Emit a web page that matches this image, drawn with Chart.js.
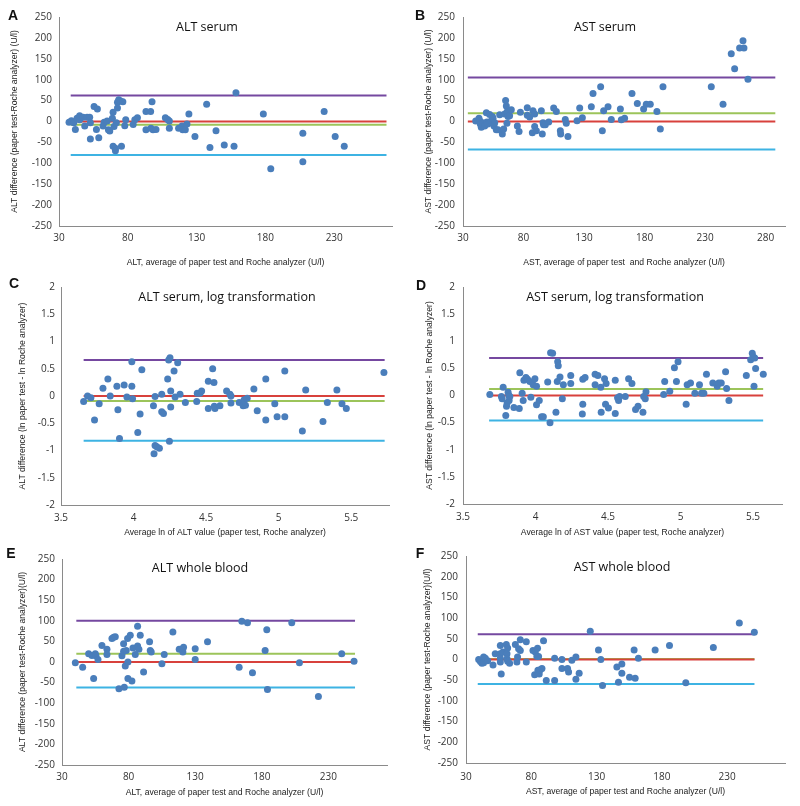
<!DOCTYPE html>
<html>
<head>
<meta charset="utf-8">
<script src="https://cdn.jsdelivr.net/npm/chart.js@4.4.1/dist/chart.umd.min.js"></script>
<style>
  body { margin: 0; background: #fff; }
  #fig { position: relative; width: 800px; height: 806px; overflow: hidden; font-family: 'Open Sans', sans-serif; }
  canvas { position: absolute; }
  .letter { position: absolute; font: bold 14px 'Liberation Sans', Arial, sans-serif; color: #111; transform: translate(-50%, -50%); }
  .title { position: absolute; font-size: 12.5px; color: #111; transform: translate(-50%, -50%); white-space: nowrap; }
</style>
</head>
<body>
<div id="fig"></div>
<script>
// ---- data ----
// limits: [upper LoA, zero, mean difference, lower LoA]
const uTicksX = [30, 80, 130, 180, 230];
const uTicksXB = [30, 80, 130, 180, 230, 280];
const uTicksY = [-250, -200, -150, -100, -50, 0, 50, 100, 150, 200, 250];
const lnTicksX = [3.5, 4, 4.5, 5, 5.5];
const lnTicksY = [-2, -1.5, -1, -0.5, 0, 0.5, 1, 1.5, 2];

// A: ALT serum
const altSerumX = [37.3,39,40.7,41.9,43.1,45,45,47.5,48.7,50.4,52.3,52.8,52.8,55.5,57.2,57.9,58.9,62,62.8,65,65.9,66.9,68.8,69.3,69.3,70,71,71,71.7,72.5,72.5,73.4,74.7,75.4,76.4,77.8,78.5,83.9,85.1,87,93.2,93.2,96.6,96.8,97.6,98.3,100.5,107.3,109,110.2,110.2,116.9,119.4,119.9,121.8,123,124.4,128.8,137.3,139.7,144.1,150.1,157.2,158.6,178.5,183.9,207.2,207.2,222.7,230.7,237.3];
const altSerumY = [-2,2,-3,-19,8,14,4,10,-11,10,10,-3,-42,36,-19,30,-39,-11,-2,1,-20,-23,8,22,-59,-12,-64,-70,-3,32,46,52,49,-59,47,-10,4,-7,4,9,-20,24,24,-16,47,-20,-19,9,5,1,-16,-16,-11,-20,-20,-6,18,-36,41,-62,-22,-56,-59,69,18,-113,-28,-96,24,-36,-59];
const altSerumLimits = [62, 0, -8, -80];
const altSerumSpan = [38.5, 268];

// B: AST serum
const astSerumX = [40.5,43.2,43.8,44.3,45.1,46,46.5,47.9,49.3,49.8,50.6,52,53.4,54.2,54.8,55.6,56.2,57.5,58.9,60.3,62.5,63.6,64.4,65.2,65.8,66.3,66.6,67.2,68.5,69.9,74.9,76.3,77.4,83.1,83.1,85.1,87.3,87.8,89.2,89.2,90.6,94.7,95.5,96.1,96.6,98,100.8,104.9,107.1,110.4,110.7,114.5,115.3,116.7,124.2,126.4,128.6,136,137.4,143.7,145.1,146.2,149.8,152.5,160,160.8,163.5,169.6,174,179.2,181.4,184.7,190.2,193,195.2,235.1,244.8,251.6,254.4,258.5,261.3,262.1,265.4];
const astSerumY = [1,8,2,-6,-14,-8,-3,-11,21,-1,-6,17,2,12,8,-11,-3,-20,-20,16,-30,-18,18,50,37,-4,24,12,14,28,-11,-24,22,33,15,11,-27,26,-12,18,-22,26,-30,-3,-8,-8,-1,32,24,-22,-30,5,-4,-36,2,32,9,35,67,83,-22,26,35,5,30,4,8,67,43,30,41,41,24,-18,83,83,41,162,126,176,193,176,101];
const astSerumLimits = [105, 0, 20, -67];
const astSerumSpan = [34, 288];

// C: ALT serum, ln
const altLnX = [3.656,3.683,3.706,3.731,3.763,3.789,3.823,3.839,3.885,3.892,3.903,3.935,3.954,3.988,3.988,3.993,4.029,4.045,4.057,4.137,4.141,4.148,4.148,4.160,4.178,4.194,4.194,4.206,4.235,4.242,4.251,4.256,4.256,4.247,4.279,4.286,4.304,4.320,4.357,4.435,4.439,4.458,4.469,4.515,4.515,4.545,4.554,4.556,4.561,4.595,4.641,4.664,4.671,4.671,4.728,4.755,4.762,4.771,4.783,4.829,4.852,4.911,4.911,4.973,4.989,5.042,5.042,5.163,5.186,5.305,5.335,5.401,5.436,5.466,5.725];
const altLnY = [-0.10,0,-0.03,-0.44,-0.14,0.14,0.31,0,0.18,-0.25,-0.78,0.20,-0.02,0.18,0.63,-0.05,-0.67,-0.33,0.48,-0.18,-1.06,-0.01,-0.91,-0.93,-0.96,0.03,-0.29,-0.32,0.31,0.66,0.70,0.09,-0.20,-0.83,0.46,-0.02,0.61,0.03,-0.12,-0.10,0.05,0.05,0.09,0.27,-0.23,0.50,0.25,-0.19,-0.23,-0.18,0.09,0.03,0,-0.13,-0.12,-0.18,-0.07,-0.17,-0.04,0.13,-0.27,0.31,-0.44,-0.14,-0.38,0.46,-0.38,-0.64,0.11,-0.47,-0.12,0.11,-0.14,-0.23,0.43];
const altLnLimits = [0.66, 0, -0.09, -0.82];
const altLnSpan = [3.656, 5.73];

// D: AST serum, ln
const astLnX = [3.685,3.765,3.770,3.777,3.795,3.800,3.804,3.811,3.816,3.818,3.823,3.851,3.888,3.892,3.908,3.915,3.920,3.934,3.945,3.961,3.968,3.984,3.996,4.007,4.007,4.026,4.042,4.054,4.084,4.100,4.104,4.118,4.141,4.150,4.153,4.157,4.169,4.185,4.192,4.243,4.243,4.323,4.326,4.326,4.342,4.411,4.411,4.430,4.450,4.453,4.476,4.483,4.487,4.503,4.550,4.550,4.566,4.573,4.580,4.619,4.642,4.665,4.690,4.707,4.741,4.746,4.757,4.762,4.884,4.891,4.926,4.958,4.972,4.983,5.039,5.046,5.069,5.099,5.131,5.145,5.161,5.179,5.223,5.253,5.264,5.281,5.311,5.318,5.334,5.454,5.484,5.495,5.502,5.507,5.518,5.571,5.512];
const astLnY = [0.02,-0.02,-0.06,0.15,-0.37,-0.20,-0.14,0.06,0,-0.09,-0.02,-0.22,-0.24,0.42,0.04,-0.09,0.28,0.33,0.30,0.26,-0.03,0.20,0.31,0.17,-0.17,-0.09,-0.39,-0.39,0.25,-0.50,0.79,0.78,-0.31,0.26,0.62,0.55,0.34,-0.06,0.20,0.37,0.22,-0.34,-0.16,0.30,0.33,0.20,0.39,0.37,0.15,-0.31,0.31,-0.16,0.22,-0.23,-0.33,0.28,-0.04,-0.09,-0.02,-0.02,0.31,0.22,-0.26,-0.20,-0.31,-0.02,-0.06,0.07,0.02,0.26,0.08,0.51,0.26,0.62,-0.16,0.20,0.23,0.04,0.20,0.04,0.04,0.39,0.23,0.17,0.23,0.23,0.44,0.13,-0.09,0.37,0.66,0.78,0.71,0.17,0.50,0.39,0.69];
const astLnLimits = [0.69, 0, 0.12, -0.46];
const astLnSpan = [3.68, 5.57];

// E: ALT whole blood
const altBloodX = [40,45.5,50,52.5,53.75,55,55.5,57,60,63.75,63.75,67.5,68.75,70,72.75,75,76.25,76.25,76.75,77.5,78.25,79.25,79.5,79.5,81.25,82.5,83.25,85,86.75,86.75,87.75,88.75,91.25,95.75,96.25,97,105,106.75,113.25,118,120.75,121.25,130,130,139.25,163,165,169.25,173,182.5,183.75,184.25,202.5,208.25,222.5,240,249.25];
const altBloodY = [-2,-13,20,16,-40,20,15,6,40,31,18,57,60,61,-65,15,44,26,-61,-10,28,57,0,-40,65,-46,34,18,87,39,31,65,-24,49,28,24,-4,18,73,31,24,36,32,6,49,-13,99,95,-26,28,78,-67,95,-2,-84,20,2];
const altBloodLimits = [100, 0, 20, -62];
const altBloodSpan = [40.75, 250];

// F: AST whole blood
const astBloodX = [39.7,41,42.2,43.5,43.5,44.8,46.6,50.7,52.4,56.3,56.3,56.3,56.3,57,58.3,60.9,61.4,61.4,61.9,61.9,63.4,67.8,69,69.5,70.3,71.6,71.6,76.2,76.2,81.3,82.6,83.1,84.3,84.8,85.1,85.6,86.1,86.9,88.2,89.4,91.5,97.9,97.9,103.5,103.5,107.8,108.6,111.1,114.2,114.2,116.7,125.2,131.5,133.3,134.6,145.6,146.8,149.4,149.4,155.3,158.8,159.6,162.1,174.9,185.9,198.4,219.5,239.4,250.9];
const astBloodY = [0,-5,-9,6,-8,3,-3,-13,14,34,14,3,-6,-35,18,36,14,2,28,-4,-9,36,-6,6,26,22,48,-6,43,22,-37,18,7,27,-26,7,-35,-25,-22,45,-51,3,-51,0,-22,-22,-30,-2,6,-48,-33,68,23,0,-63,-18,-55,-11,-33,-43,23,-45,3,23,34,-56,29,88,66];
const astBloodLimits = [61, 0, 1, -59];
const astBloodSpan = [39, 251];

const limitColors = ['#7548a0', '#d8413c', '#9cc45a', '#3db3e3'];
const pointColor = '#4a7ebb';
const axisFont = "'Liberation Sans', Arial, sans-serif";

// box = canvas [left, top, w, h]; area = plot [left, right, top, bottom] inside canvas
// pad = [x tick pad, x title pad, y tick pad, y title pad]
const panels = [
  { letter: 'A', title: 'ALT serum', tpos: [207, 26], lpos: [13, 15],
    xs: altSerumX, ys: altSerumY, limits: altSerumLimits, span: altSerumSpan,
    xr: [30, 272], yr: [-250, 250], xt: uTicksX, yt: uTicksY,
    xTitle: 'ALT, average of paper test and Roche analyzer (U/l)',
    yTitle: 'ALT difference (paper test-Roche analyzer) (U/l)',
    box: [0, 0, 400, 270], area: [59, 392, 17, 226], pad: [6, 1.8, 7, 9.8] },
  { letter: 'B', title: 'AST serum', tpos: [605, 26], lpos: [420, 15],
    xs: astSerumX, ys: astSerumY, limits: astSerumLimits, span: astSerumSpan,
    xr: [30, 296], yr: [-250, 250], xt: uTicksXB, yt: uTicksY,
    xTitle: 'AST, average of paper test  and Roche analyzer (U/l)',
    yTitle: 'AST difference (paper test-Roche analyzer) (U/l)',
    box: [400, 0, 400, 270], area: [63, 385, 17, 226], pad: [6, 1.8, 8, 23.8] },
  { letter: 'C', title: 'ALT serum, log transformation', tpos: [227, 296], lpos: [14, 283],
    xs: altLnX, ys: altLnY, limits: altLnLimits, span: altLnSpan,
    xr: [3.5, 5.76], yr: [-2, 2], xt: lnTicksX, yt: lnTicksY,
    xTitle: 'Average ln of ALT value (paper test, Roche analyzer)',
    yTitle: 'ALT difference (ln paper test - ln Roche analyzer)',
    box: [0, 270, 400, 270], area: [61, 389, 17, 235], pad: [7, 1.8, 6, 17.8] },
  { letter: 'D', title: 'AST serum, log transformation', tpos: [615, 296], lpos: [421, 285],
    xs: astLnX, ys: astLnY, limits: astLnLimits, span: astLnSpan,
    xr: [3.5, 5.70], yr: [-2, 2], xt: lnTicksX, yt: lnTicksY,
    xTitle: 'Average ln of AST value (paper test, Roche analyzer)',
    yTitle: 'AST difference (ln paper test - ln Roche analyzer)',
    box: [400, 270, 400, 270], area: [63, 382, 17, 234], pad: [7, 1.8, 8, 24.8] },
  { letter: 'E', title: 'ALT whole blood', tpos: [200, 567], lpos: [11, 553],
    xs: altBloodX, ys: altBloodY, limits: altBloodLimits, span: altBloodSpan,
    xr: [30, 274], yr: [-250, 250], xt: uTicksX, yt: uTicksY,
    xTitle: 'ALT, average of paper test and Roche analyzer (U/l)',
    yTitle: 'ALT difference (paper test-Roche analyzer)(U/l)',
    box: [0, 535, 400, 271], area: [62, 387, 24, 230], pad: [6, 7.8, 7, 17.8] },
  { letter: 'F', title: 'AST whole blood', tpos: [622, 566], lpos: [420, 553],
    xs: astBloodX, ys: astBloodY, limits: astBloodLimits, span: astBloodSpan,
    xr: [30, 274.4], yr: [-250, 250], xt: uTicksX, yt: uTicksY,
    xTitle: 'AST, average of paper test and Roche analyzer (U/l)',
    yTitle: 'AST difference (paper test-Roche analyzer)(U/l)',
    box: [400, 535, 400, 271], area: [66, 385, 21, 228], pad: [8, 8.8, 8, 22.8] }
];

function addText(cls, text, pos) {
  const d = document.createElement('div');
  d.className = cls;
  d.textContent = text;
  d.style.left = pos[0] + 'px';
  d.style.top = pos[1] + 'px';
  document.getElementById('fig').appendChild(d);
}

function drawPanel(p) {
  const cv = document.createElement('canvas');
  cv.width = p.box[2];
  cv.height = p.box[3];
  cv.style.left = p.box[0] + 'px';
  cv.style.top = p.box[1] + 'px';
  document.getElementById('fig').appendChild(cv);

  const points = p.xs.map((x, i) => ({ x: x, y: p.ys[i] }));
  const lines = p.limits.map((v, i) => ({
    data: [{ x: p.span[0], y: v }, { x: p.span[1], y: v }],
    showLine: true,
    borderColor: limitColors[i],
    borderWidth: 2,
    pointRadius: 0,
    order: 1
  }));

  const tickFont = { family: "'Open Sans', sans-serif", size: 10 };
  const titleFont = { family: axisFont, size: 8.6 };

  new Chart(cv, {
    type: 'scatter',
    data: {
      datasets: [
        { data: points, backgroundColor: pointColor, borderWidth: 0, pointRadius: 3.5, order: 0 },
        ...lines
      ]
    },
    options: {
      responsive: false,
      animation: false,
      layout: { padding: { left: 0, top: p.area[2], right: p.box[2] - p.area[1], bottom: 0 } },
      plugins: { legend: { display: false }, tooltip: { enabled: false } },
      scales: {
        x: {
          type: 'linear', min: p.xr[0], max: p.xr[1],
          afterBuildTicks: (s) => { s.ticks = p.xt.map(v => ({ value: v })); },
          afterFit: (s) => { s.height = p.box[3] - p.area[3]; },
          grid: { display: false, drawTicks: false },
          border: { color: '#8a8a8a', width: 1 },
          ticks: { font: tickFont, color: '#333', padding: p.pad[0], maxRotation: 0, autoSkip: false, callback: (v) => String(v) },
          title: { display: true, text: p.xTitle, font: titleFont, color: '#222', padding: { top: 0, bottom: p.pad[1] } }
        },
        y: {
          type: 'linear', min: p.yr[0], max: p.yr[1],
          afterBuildTicks: (s) => { s.ticks = p.yt.map(v => ({ value: v })); },
          afterFit: (s) => { s.width = p.area[0]; },
          grid: { display: false, drawTicks: false },
          border: { color: '#8a8a8a', width: 1 },
          ticks: { font: tickFont, color: '#333', padding: p.pad[2], autoSkip: false, callback: (v) => String(v) },
          title: { display: true, text: p.yTitle, font: titleFont, color: '#222', padding: { top: p.pad[3], bottom: 0 } }
        }
      }
    }
  });

  addText('letter', p.letter, p.lpos);
  addText('title', p.title, p.tpos);
}

panels.forEach(drawPanel);
</script>
</body>
</html>
